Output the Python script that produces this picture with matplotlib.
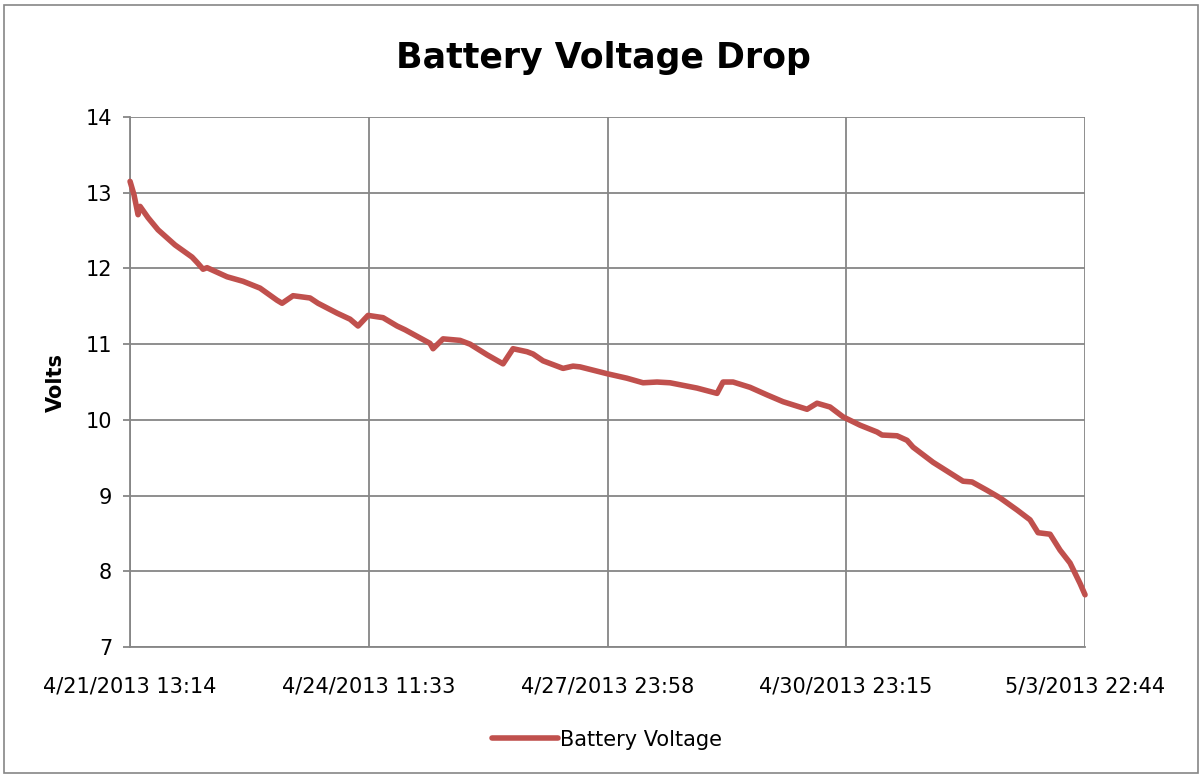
import matplotlib
matplotlib.use("Agg")
import matplotlib.pyplot as plt
from matplotlib.patches import Rectangle

plt.rcParams["font.family"] = ["DejaVu Sans"]

# reading number (sample index) and measured battery voltage
reading = [0, 4, 8, 10, 18, 28, 45, 62, 67, 73, 77, 97, 113, 130, 147, 152, 163,
           180, 188, 207, 220, 228, 238, 253, 267, 275, 300, 303, 313, 330, 340,
           357, 373, 383, 397, 403, 413, 433, 443, 450, 477, 497, 513, 527, 540,
           567, 587, 593, 603, 620, 637, 653, 677, 687, 700, 713, 730, 747, 752,
           767, 777, 783, 803, 833, 842, 857, 870, 887, 900, 908, 920, 930, 940,
           950, 955]
volts = [13.15, 12.97, 12.71, 12.82, 12.67, 12.51, 12.31, 12.15, 12.08, 11.99,
         12.01, 11.89, 11.83, 11.74, 11.58, 11.54, 11.64, 11.61, 11.54, 11.41,
         11.33, 11.24, 11.38, 11.35, 11.24, 11.19, 11.01, 10.94, 11.07, 11.05,
         11.00, 10.86, 10.74, 10.94, 10.90, 10.87, 10.78, 10.68, 10.71, 10.70,
         10.61, 10.55, 10.49, 10.50, 10.49, 10.42, 10.35, 10.50, 10.50, 10.43,
         10.33, 10.24, 10.14, 10.22, 10.17, 10.04, 9.93, 9.84, 9.80, 9.79, 9.73,
         9.64, 9.44, 9.19, 9.18, 9.07, 8.97, 8.81, 8.68, 8.51, 8.49, 8.28, 8.11,
         7.84, 7.69]
tick_pos = [0, 239, 478, 716, 955]
tick_labels = ["4/21/2013 13:14", "4/24/2013 11:33", "4/27/2013 23:58",
               "4/30/2013 23:15", "5/3/2013 22:44"]

fig = plt.figure(figsize=(12.02, 7.76), dpi=100)
fig.patches.append(Rectangle((0.003, 0.004), 0.994, 0.99, transform=fig.transFigure,
                             fill=False, ec="#868686", lw=1.2))
ax = fig.add_axes([0.1082, 0.1662, 0.7945, 0.683])

ax.plot(reading, volts, color="#C0504D", lw=4.0, solid_joinstyle="round",
        solid_capstyle="round", label="Battery Voltage", zorder=3, clip_on=False)

ax.set_xlim(0, 955)
ax.set_ylim(7, 14)
ax.set_yticks(range(7, 15))
ax.set_xticks(tick_pos)
ax.set_xticklabels(tick_labels)
ax.grid(True, color="#868686", lw=1.3)
ax.set_axisbelow(True)
for s in ["top", "right"]:
    ax.spines[s].set_visible(False)
for s in ["left", "bottom"]:
    ax.spines[s].set_color("#868686")
    ax.spines[s].set_linewidth(1.3)
ax.tick_params(axis="both", colors="#868686", labelcolor="black", labelsize=15,
               length=5, width=1.3)
ax.tick_params(axis="x", pad=21, length=0)
ax.tick_params(axis="y", pad=8)

ax.set_ylabel("Volts", fontsize=15, fontweight="bold", labelpad=14)
fig.text(0.502, 0.925, "Battery Voltage Drop", ha="center", va="center",
         fontsize=25, fontweight="bold")
fig.legend(loc="center", bbox_to_anchor=(0.505, 0.047), frameon=False,
           fontsize=15, handlelength=3.2, handletextpad=0.1)

fig.savefig("out.png", dpi=100)
